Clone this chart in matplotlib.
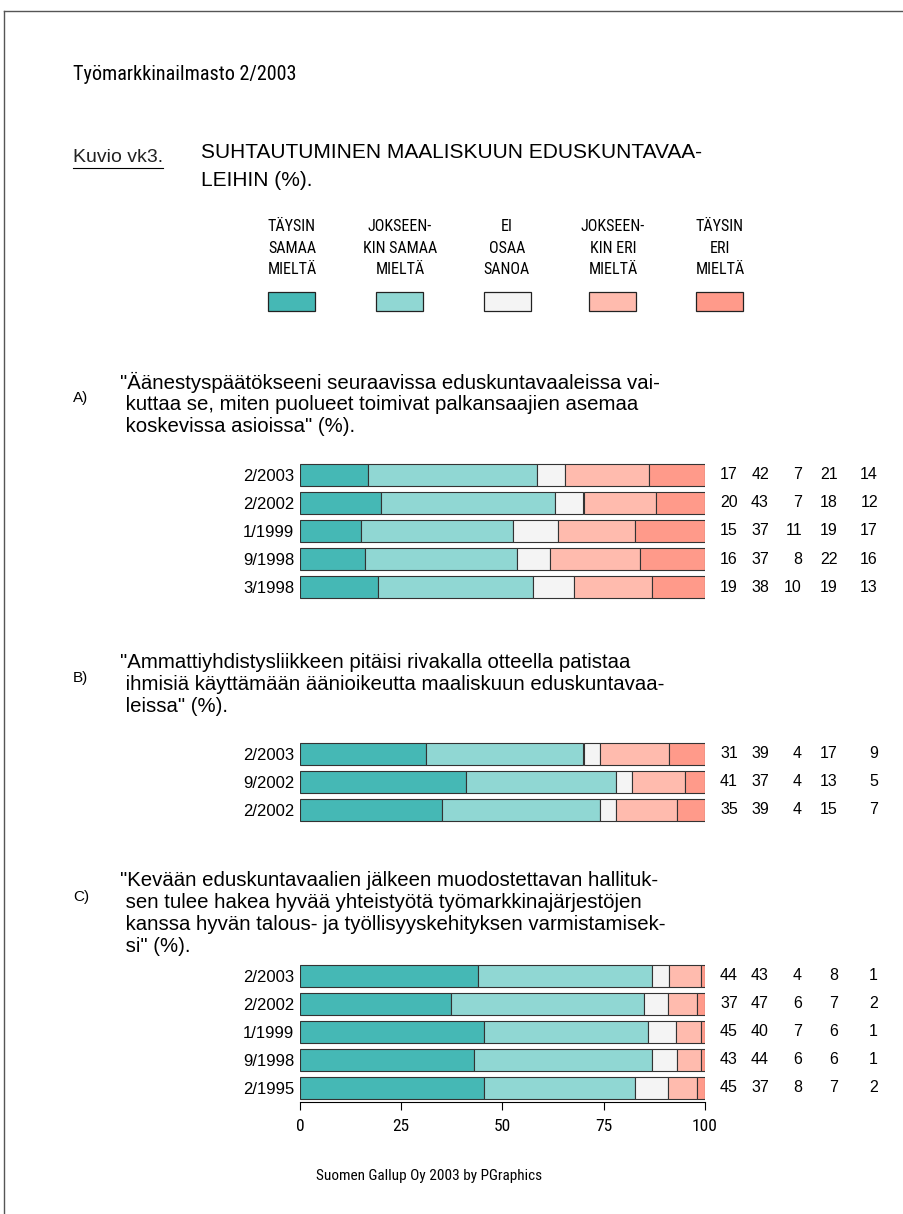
import os
import numpy as np
import matplotlib
matplotlib.use("Agg")
import matplotlib.pyplot as plt
import matplotlib.font_manager as fm
from matplotlib.patches import Rectangle
from matplotlib.lines import Line2D
import matplotlib.transforms as mtransforms

# --- data ---
categories = ["TÄYSIN\nSAMAA\nMIELTÄ", "JOKSEEN-\nKIN SAMAA\nMIELTÄ", "EI\nOSAA\nSANOA",
              "JOKSEEN-\nKIN ERI\nMIELTÄ", "TÄYSIN\nERI\nMIELTÄ"]
colors = ["#45b8b5", "#90d7d3", "#f4f4f4", "#ffbbae", "#ff9a8a"]

years_a = ["2/2003", "2/2002", "1/1999", "9/1998", "3/1998"]
vals_a = [[17, 42, 7, 21, 14],
          [20, 43, 7, 18, 12],
          [15, 37, 11, 19, 17],
          [16, 37, 8, 22, 16],
          [19, 38, 10, 19, 13]]

years_b = ["2/2003", "9/2002", "2/2002"]
vals_b = [[31, 39, 4, 17, 9],
          [41, 37, 4, 13, 5],
          [35, 39, 4, 15, 7]]

years_c = ["2/2003", "2/2002", "1/1999", "9/1998", "2/1995"]
vals_c = [[44, 43, 4, 8, 1],
          [37, 47, 6, 7, 2],
          [45, 40, 7, 6, 1],
          [43, 44, 6, 6, 1],
          [45, 37, 8, 7, 2]]

question_a = ['"Äänestyspäätökseeni seuraavissa eduskuntavaaleissa vai-',
              ' kuttaa se, miten puolueet toimivat palkansaajien asemaa',
              ' koskevissa asioissa" (%).']
question_b = ['"Ammattiyhdistysliikkeen pitäisi rivakalla otteella patistaa',
              ' ihmisiä käyttämään äänioikeutta maaliskuun eduskuntavaa-',
              ' leissa" (%).']
question_c = ['"Kevään eduskuntavaalien jälkeen muodostettavan hallituk-',
              ' sen tulee hakea hyvää yhteistyötä työmarkkinajärjestöjen',
              ' kanssa hyvän talous- ja työllisyyskehityksen varmistamisek-',
              ' si" (%).']

W, H = 904, 1214
fig = plt.figure(figsize=(W / 100, H / 100), dpi=100)
fig.patch.set_facecolor("white")

helv = ["Liberation Sans", "DejaVu Sans"]


# narrow font (Helvetica Narrow look-alike), if one is installed
def pick_narrow():
    files = [f.fname for f in fm.fontManager.ttflist]
    prefs = ["LiberationSansNarrow-Regular.ttf", "NotoSans-Condensed.ttf",
             "RobotoCondensed-Regular.ttf", "OpenSans_Condensed-Regular.ttf",
             "DejaVuSansCondensed.ttf"]
    for p in prefs:
        for f in files:
            if os.path.basename(f).lower() == p.lower():
                return f
    for f in files:
        b = os.path.basename(f).lower()
        if ("condensed" in b or "narrow" in b) and "bold" not in b and "italic" not in b \
                and "semi" not in b and "extra" not in b:
            return f
    return None


nfile = pick_narrow()


def nprop(size):
    if nfile:
        return fm.FontProperties(fname=nfile, size=size)
    return fm.FontProperties(family=helv, size=size)


def fx(x):
    return x / W


def fy(y):
    return 1 - y / H


# frame
fig.add_artist(Line2D([fx(4), fx(904)], [fy(11), fy(11)], color="#555555", lw=1))
fig.add_artist(Line2D([fx(4), fx(4)], [fy(11), fy(1214)], color="#555555", lw=1))

# header
fig.text(fx(73), fy(75), "Työmarkkinailmasto 2/2003", fontproperties=nprop(14.5), va="center")
kuvio = fig.text(fx(73), fy(158), "Kuvio vk3.", family=helv, fontsize=14, va="center",
                 color="#222222")
fig.text(fx(201), fy(152), "SUHTAUTUMINEN MAALISKUUN EDUSKUNTAVAA-", family=helv,
         fontsize=15, va="center")
fig.text(fx(201), fy(181), "LEIHIN (%).", family=helv, fontsize=15, va="center")

# underline under "Kuvio vk3."
fig.canvas.draw()
bb = kuvio.get_window_extent().transformed(fig.transFigure.inverted())
fig.add_artist(Line2D([bb.x0, bb.x1], [fy(168), fy(168)], color="black", lw=0.8))

# legend
leg_x = [292, 400, 507, 613, 720]
for cx, lab, col in zip(leg_x, categories, colors):
    fig.text(fx(cx), fy(248), lab, fontproperties=nprop(11.5), ha="center", va="center",
             linespacing=1.55)
    fig.add_artist(Rectangle((fx(cx - 23.5), fy(311)), fx(47), 19 / H, facecolor=col,
                             edgecolor="#222222", lw=0.9, transform=fig.transFigure))

num_cols = [738, 769, 802, 838, 878]


def question(letter, lines, y0):
    fig.text(fx(73), fy(y0 + 16), letter, family=helv, fontsize=11, va="center")
    for i, ln in enumerate(lines):
        fig.text(fx(120), fy(y0 + 22 * i), ln, family=helv, fontsize=14.7, va="center")


def bars(years, vals, top, xaxis=False):
    n = len(years)
    bottom = top + 28 * n
    ax = fig.add_axes([fx(300), fy(bottom), 405 / W, (bottom - top) / H])
    v = np.array(vals, dtype=float)
    pct = v / v.sum(axis=1, keepdims=True) * 100
    ypos = np.arange(n)
    left = np.zeros(n)
    for j in range(5):
        ax.barh(ypos, pct[:, j], left=left, height=0.79, color=colors[j],
                edgecolor="#333333", lw=0.8)
        left += pct[:, j]
    ax.set_xlim(0, 100)
    ax.set_ylim(n - 0.5, -0.5)
    ax.set_yticks(ypos)
    ax.set_yticklabels(years, family=helv, fontsize=12)
    ax.tick_params(axis="y", length=0, pad=4)
    for s in ["top", "right", "left"]:
        ax.spines[s].set_visible(False)
    trans = mtransforms.blended_transform_factory(ax.transAxes, ax.transData)
    for i in range(n):
        for j in range(5):
            ax.text((num_cols[j] - 300) / 405, i, str(vals[i][j]), transform=trans,
                    ha="right", va="center", family=helv, fontsize=11.5)
    if xaxis:
        ax.set_xticks([0, 25, 50, 75, 100])
        ax.set_xticklabels(["0", "25", "50", "75", "100"], fontproperties=nprop(12.5))
        ax.tick_params(axis="x", length=6, width=0.8, pad=6)
        ax.spines["bottom"].set_linewidth(0.8)
    else:
        ax.spines["bottom"].set_visible(False)
        ax.set_xticks([])
    return ax


question("A)", question_a, 382)
bars(years_a, vals_a, 461)

question("B)", question_b, 662)
bars(years_b, vals_b, 740)

question("C)", question_c, 881)
bars(years_c, vals_c, 962, xaxis=True)

fig.text(fx(429), fy(1176), "Suomen Gallup Oy 2003 by PGraphics", fontproperties=nprop(11),
         ha="center", va="center")

fig.savefig("out.png", dpi=100)
